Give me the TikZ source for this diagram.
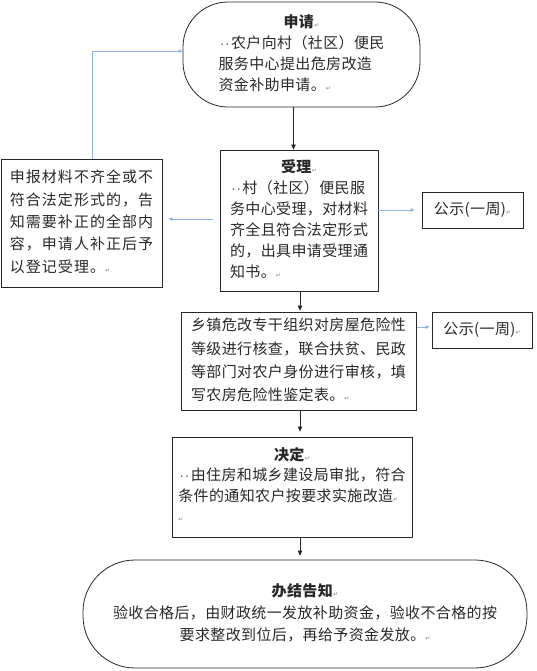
\documentclass[tikz,border=0pt]{standalone}
\usepackage{fontspec}
\setmainfont[LetterSpace=2.5]{Noto Sans CJK SC}
\newfontfamily\widecjk[LetterSpace=7]{Noto Sans CJK SC}
\newfontfamily\dvfont{DejaVu Sans}
\usetikzlibrary{arrows.meta,calc}
\definecolor{conblue}{RGB}{141,179,226}
\definecolor{txt}{RGB}{40,40,40}
\newcommand\retmark{{\dvfont\fontsize{6}{6}\selectfont\color{gray}↵}}
\newcommand\dts{{\dvfont\fontsize{11}{11}\selectfont\,·\,·\,}}
\newcommand\hd[1]{\multicolumn{1}{c}{\textbf{#1}\retmark}}
\newcommand\tbl[3]{{\renewcommand\arraystretch{#1}\begin{tabular}{@{}#2@{}}#3\end{tabular}}}
\begin{document}
\begin{tikzpicture}[x=1pt,y=-1pt,
  box/.style={draw=black!85,line width=0.8pt,inner sep=0pt,text=txt,
    font=\fontsize{15}{21}\selectfont},
  arr/.style={-{Triangle[length=5pt,width=4.5pt]},line width=0.8pt,black!85},
  barr/.style={-{Triangle[length=4pt,width=3.5pt]},line width=0.8pt,conblue}]
\useasboundingbox (0,0) rectangle (537,671);
\coordinate (ax) at (300,0);

\node[box,minimum width=237pt,minimum height=105pt,rounded corners=45pt] (apply) at (301.5,54.5)
 {\tbl{1.0}{l}{\hd{申请}\\ \dts 农户向村（社区）便民\\ 服务中心提出危房改造\\ 资金补助申请。\retmark}};

\node[box,minimum width=158pt,minimum height=141pt] (accept) at (299,220.5)
 {\tbl{1.0}{l}{\hd{受理}\\ \dts 村（社区）便民服\\ 务中心受理，对材料\\ 齐全且符合法定形式\\ 的，出具申请受理通\\ 知书。\retmark}};

\node[box,minimum width=161pt,minimum height=128pt,font=\fontsize{15}{21}\widecjk] (reject) at (81.5,223)
 {\tbl{1.07}{l}{申报材料不齐全或不\\ 符合法定形式的，告\\ 知需要补正的全部内\\ 容，申请人补正后予\\ 以登记受理。\retmark}};

\node[box,minimum width=101pt,minimum height=36pt] (pub1) at (472.5,210) {公示(一周)\retmark};

\node[box,minimum width=235pt,minimum height=98pt] (check) at (298.5,361)
 {\tbl{1.11}{l}{乡镇危改专干组织对房屋危险性\\ 等级进行核查，联合扶贫、民政\\ 等部门对农户身份进行审核，填\\ 写农房危险性鉴定表。\retmark}};

\node[box,minimum width=100pt,minimum height=36pt] (pub2) at (482,330) {公示(一周)\retmark};

\node[box,minimum width=240pt,minimum height=100pt] (decide) at (292,487)
 {\tbl{0.98}{l}{\hd{决定}\\ \dts 由住房和城乡建设局审批，符合\\ 条件的通知农户按要求实施改造\retmark\\ \retmark}};

\node[box,minimum width=444pt,minimum height=108pt,rounded corners=52pt] (final) at (305,614)
 {\tbl{1.05}{c}{\textbf{办结告知}\retmark\\ 验收合格后，由财政统一发放补助资金，验收不合格的按\\ 要求整改到位后，再给予资金发放。\retmark}};

% connectors
\draw[arr] ([xshift=-8pt]apply.south) -- ([xshift=-8pt]apply.south |- accept.north);
\draw[arr,shorten >=1pt] (accept.south -| ax) -- (check.north -| ax);
\draw[arr,shorten >=5pt] (check.south -| ax) -- (decide.north -| ax);
\draw[arr,shorten >=4pt] (decide.south -| ax) -- (final.north -| ax);

\draw[barr,shorten >=7pt] (accept.east |- pub1.west) -- (pub1.west);
\draw[barr,shorten <=7pt,shorten >=6pt] ([yshift=4pt]accept.west |- reject.east) -- ([yshift=4pt]reject.east);
\draw[barr] ([xshift=10.5pt]reject.north) |- ([yshift=3.5pt]apply.west);
\draw[barr,shorten <=1pt,shorten >=2pt] ([yshift=3pt]check.east |- pub2.west) -- ([yshift=3pt]pub2.west);
\end{tikzpicture}
\end{document}
